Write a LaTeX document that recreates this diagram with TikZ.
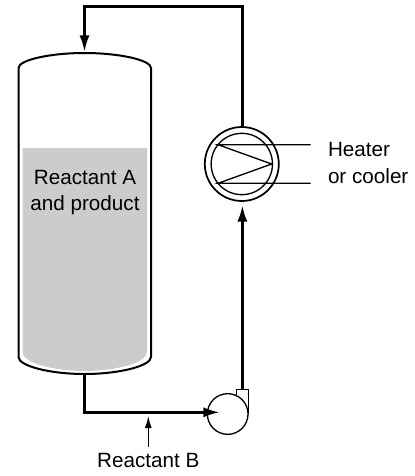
\documentclass[tikz,border=0pt]{standalone}
\usepackage{fontspec}
\setmainfont{Liberation Sans}
\usetikzlibrary{arrows.meta}
\tikzset{
  x=0.75pt,y=-0.75pt,
  pipe/.style={line width=2.1pt,line join=miter},
  thin line/.style={line width=1.0pt},
  big tip/.style={-{Latex[length=12.5pt,width=7.6pt]}},
  small tip/.style={-{Latex[length=9pt,width=5.2pt]}},
  lbl/.style={font=\fontsize{15.5pt}{19.5pt}\selectfont,inner sep=0pt,outer sep=0pt,align=center},
  vessel/.style={line width=1.5pt},
  ring/.style={circle,draw,inner sep=0pt,outer sep=0pt,line width=1.3pt,fill=white}
}
\begin{document}
\begin{tikzpicture}
\useasboundingbox (0,0) rectangle (415,476);
% liquid
\fill[black!20] (22.5,148) -- (147,148) -- (147,352)
  .. controls (147,363) and (115,371) .. (84.5,371)
  .. controls (54,371) and (22.5,363) .. (22.5,352) -- cycle;
% vessel outline
\draw[vessel] (18.5,68) .. controls (18.5,60) and (50,53) .. (84.5,53)
  .. controls (119,53) and (151,60) .. (151,68) -- (151,357)
  .. controls (151,366) and (119,374) .. (84.5,374)
  .. controls (50,374) and (18.5,366) .. (18.5,357) -- cycle;
\coordinate (tanktop) at (84.5,52);
\coordinate (tankbot) at (84.5,374);
% nodes
\node[ring,minimum size=55.5pt] (hx) at (241.8,164) {};
\node[circle,draw,inner sep=0pt,outer sep=0pt,line width=1.0pt,minimum size=46pt] (hxin) at (241.8,164) {};
\node[ring,line width=1.0pt,minimum size=30.5pt] (pump) at (227.7,414) {};
% pump outlet stub
\draw[thin line] (236.7,396) -- (236.7,389.5) -- (248.3,389.5) -- (248.3,414);
\coordinate (pumpout) at (242.4,389.5);
\coordinate (pumpin) at (220,412.3);
\coordinate (corner1) at (84.5,412.3);
\coordinate (hxbot) at (242.4,205);
\coordinate (hxtop) at (242.4,127);
\coordinate (ctop1) at (242.4,6.8);
\coordinate (ctop2) at (84.5,6.8);
% pipes
\draw[pipe,big tip] (tankbot) -- (corner1) -- (pumpin);
\draw[pipe,big tip] (pumpout) -- (hxbot);
\draw[pipe,big tip] (hxtop) -- (ctop1) -- (ctop2) -- (tanktop);
% heater coil
\coordinate (c1) at (218,144.7);
\coordinate (c2) at (271.7,164);
\coordinate (c3) at (218,183.3);
\coordinate (e1) at (310.7,144.7);
\coordinate (e3) at (310.7,183.3);
\draw[thin line] (e1) -- (c1) -- (c2) -- (c3) -- (e3);
% labels
\node[lbl,anchor=base west] (heater) at (328,156.5) {Heater};
\node[lbl,anchor=base west] (cooler) at (328,183.3) {or cooler};
\node[lbl,anchor=base] (prodA) at (85,184) {Reactant A};
\node[lbl,anchor=base] (prodB) at (85,210) {and product};
\node[lbl,anchor=base] (rb) at (148.3,467) {Reactant B};
\coordinate (rbtip) at (148.3,416);
\coordinate (rbfoot) at (148.3,446.7);
\draw[thin line,small tip] (rbfoot) -- (rbtip);
\end{tikzpicture}
\end{document}
